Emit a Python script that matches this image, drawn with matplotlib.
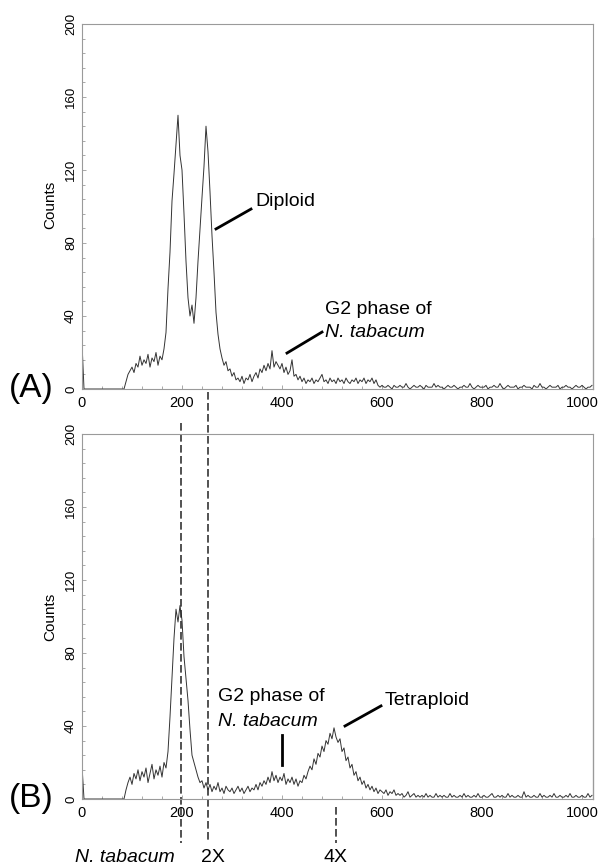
import numpy as np
import matplotlib
matplotlib.use("Agg")
import matplotlib.pyplot as plt
from matplotlib.ticker import MultipleLocator

plt.rcParams['font.family'] = ['Liberation Sans', 'DejaVu Sans']

# histogram counts, one value every 4 channels (0, 4, 8, ... 1020)
counts_a = [
    25, 0, 0, 0, 0, 0, 0, 0, 0, 0,            # 0
    0, 0, 0, 0, 0, 0, 0, 0, 0, 0,             # 40
    0, 0, 4, 8, 10, 12, 9, 14, 12, 18,        # 80
    13, 16, 14, 19, 12, 17, 15, 20, 13, 18,   # 120
    16, 22, 31, 55, 75, 103, 118, 134, 150, 128,  # 160
    120, 96, 70, 50, 40, 46, 36, 50, 70, 88,  # 200
    105, 122, 144, 130, 108, 84, 64, 42, 30, 22,  # 240
    17, 13, 15, 10, 11, 7, 9, 5, 6, 4,        # 280
    7, 3, 6, 5, 8, 4, 7, 9, 6, 11,            # 320
    9, 13, 10, 14, 11, 21, 12, 15, 13, 11,    # 360
    14, 9, 12, 8, 10, 16, 7, 8, 5, 7,         # 400
    4, 6, 3, 5, 4, 6, 3, 5, 4, 6,             # 440
    8, 4, 5, 3, 6, 4, 5, 3, 6, 4,             # 480
    5, 3, 6, 4, 3, 5, 4, 6, 3, 5,             # 520
    4, 6, 3, 5, 4, 6, 3, 5, 2, 1,             # 560
    2, 1, 1, 2, 1, 0, 2, 1, 1, 2,             # 600
    1, 1, 3, 1, 0, 1, 2, 1, 1, 2,             # 640
    1, 0, 2, 1, 1, 1, 3, 1, 2, 1,             # 680
    1, 0, 1, 2, 1, 1, 2, 1, 0, 1,             # 720
    1, 2, 1, 1, 3, 1, 0, 1, 2, 1,             # 760
    1, 1, 2, 0, 1, 1, 2, 1, 1, 3,             # 800
    1, 0, 1, 2, 1, 1, 1, 2, 0, 1,             # 840
    1, 2, 1, 1, 1, 0, 2, 1, 1, 3,             # 880
    1, 1, 0, 1, 2, 1, 1, 1, 2, 0,             # 920
    1, 1, 2, 1, 1, 0, 1, 2, 1, 1,             # 960
    2, 1, 0, 1, 1, 2,                         # 1000
]

counts_b = [
    18, 0, 0, 0, 0, 0, 0, 0, 0, 0,            # 0
    0, 0, 0, 0, 0, 0, 0, 0, 0, 0,             # 40
    0, 0, 5, 9, 12, 8, 14, 11, 16, 10,        # 80
    15, 12, 17, 9, 14, 19, 11, 16, 13, 18,    # 120
    12, 20, 17, 26, 45, 66, 88, 104, 97, 106, # 160
    98, 78, 66, 54, 38, 24, 20, 16, 12, 9,    # 200
    10, 6, 9, 5, 8, 4, 7, 5, 9, 4,            # 240
    6, 3, 7, 5, 4, 6, 3, 5, 7, 4,             # 280
    6, 3, 5, 7, 4, 6, 5, 8, 5, 9,             # 320
    7, 10, 8, 12, 9, 15, 10, 13, 9, 12,       # 360
    10, 14, 8, 11, 9, 12, 8, 11, 7, 10,       # 400
    9, 13, 11, 15, 18, 16, 22, 19, 25, 23,    # 440
    29, 26, 32, 30, 36, 33, 39, 34, 31, 33,   # 480
    26, 28, 21, 23, 17, 19, 13, 15, 10, 12,   # 520
    8, 10, 6, 8, 5, 7, 4, 6, 3, 5,            # 560
    4, 3, 5, 2, 4, 3, 5, 2, 3, 2,             # 600
    3, 1, 2, 4, 1, 2, 3, 1, 2, 1,             # 640
    2, 1, 3, 1, 2, 1, 1, 3, 1, 2,             # 680
    1, 2, 1, 1, 3, 1, 2, 1, 1, 2,             # 720
    1, 3, 1, 2, 1, 1, 2, 1, 3, 1,             # 760
    1, 2, 1, 1, 2, 3, 1, 1, 2, 1,             # 800
    2, 1, 1, 3, 1, 2, 1, 1, 2, 1,             # 840
    1, 4, 1, 2, 1, 1, 2, 1, 1, 3,             # 880
    1, 2, 1, 1, 2, 1, 3, 1, 1, 2,             # 920
    1, 1, 2, 1, 3, 1, 1, 2, 1, 1,             # 960
    2, 1, 1, 3, 1, 2,                         # 1000
]

channels_a = 4 * np.arange(len(counts_a))
channels_b = 4 * np.arange(len(counts_b))

# reference peak positions (channels)
ref_ntab = 197
ref_2x = 252
ref_4x = 508

W, H = 605, 865
fig = plt.figure(figsize=(W / 100, H / 100), dpi=100)


def fx(px):
    return px / W


def fy(py):
    return 1 - py / H


ax_a = fig.add_axes([fx(82), fy(389), (593 - 82) / W, (389 - 24) / H])
ax_b = fig.add_axes([fx(82), fy(799), (593 - 82) / W, (799 - 434) / H])

line_col = '#333333'
spine_col = '#9a9a9a'

for ax, ch, cnt in [(ax_a, channels_a, counts_a), (ax_b, channels_b, counts_b)]:
    ax.plot(ch, cnt, color=line_col, lw=0.7)
    ax.set_xlim(0, 1022)
    ax.set_ylim(0, 200)
    ax.xaxis.set_major_locator(MultipleLocator(200))
    ax.xaxis.set_minor_locator(MultipleLocator(40))
    ax.yaxis.set_major_locator(MultipleLocator(40))
    ax.yaxis.set_minor_locator(MultipleLocator(8))
    for s in ax.spines.values():
        s.set_color(spine_col)
        s.set_linewidth(0.8)
    ax.tick_params(which='both', direction='in', color=spine_col, width=0.6)
    ax.tick_params(which='major', length=3)
    ax.tick_params(which='minor', length=2)
    ax.tick_params(axis='x', labelsize=10.5, pad=5)
    ax.tick_params(axis='y', labelsize=9.5, pad=3.5)
    for lbl in ax.get_yticklabels():
        lbl.set_rotation(90)
        lbl.set_va('center')

# darker lower part of the right frame
ax_a.plot([1022, 1022], [0, 83], color='#222222', lw=0.8, clip_on=False)
ax_b.plot([1022, 1022], [0, 143], color='#222222', lw=0.8, clip_on=False)

fig.text(fx(50), fy(205), 'Counts', rotation=90, ha='center', va='center', fontsize=11)
fig.text(fx(50), fy(617), 'Counts', rotation=90, ha='center', va='center', fontsize=11)
fig.text(fx(54), fy(388), '(A)', ha='right', va='center', fontsize=24)
fig.text(fx(54), fy(798), '(B)', ha='right', va='center', fontsize=24)

tfs = 14
# panel A annotations
ax_a.text(346, 102.5, 'Diploid', fontsize=tfs, va='center', ha='left')
ax_a.plot([268, 338], [87.7, 98.6], color='black', lw=2)
ax_a.text(486, 43.3, 'G2 phase of', fontsize=tfs, va='center', ha='left')
ax_a.text(486, 30.7, 'N. tabacum', fontsize=tfs, va='center', ha='left', style='italic')
ax_a.plot([410, 480], [19.7, 31.2], color='black', lw=2)

# panel B annotations
ax_b.text(272, 55.9, 'G2 phase of', fontsize=tfs, va='center', ha='left')
ax_b.text(272, 42.2, 'N. tabacum', fontsize=tfs, va='center', ha='left', style='italic')
ax_b.plot([400, 400], [35, 18.6], color='black', lw=2)
ax_b.text(606, 54.2, 'Tetraploid', fontsize=tfs, va='center', ha='left')
ax_b.plot([526, 598], [40, 51], color='black', lw=2)

# dashed reference lines
dash = dict(color='#222222', lw=1.1, linestyle=(0, (5, 2.2)), clip_on=False)
ax_b.plot([ref_ntab, ref_ntab], [206, -24], **dash)
ax_b.plot([ref_2x, ref_2x], [223, -24], **dash)
ax_b.plot([ref_4x, ref_4x], [-4.4, -24], **dash)

ax_b.text(ref_ntab - 11, -31.8, 'N. tabacum', fontsize=tfs, ha='right', va='center', style='italic')
ax_b.text(ref_2x + 10, -31.8, '2X', fontsize=tfs, ha='center', va='center')
ax_b.text(ref_4x, -31.8, '4X', fontsize=tfs, ha='center', va='center')

fig.savefig('out.png', dpi=100)
